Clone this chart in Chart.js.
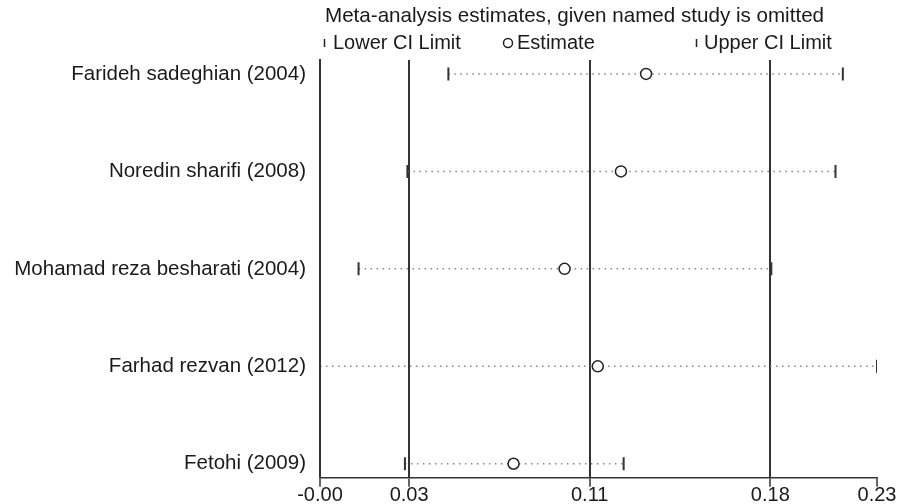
<!DOCTYPE html>
<html>
<head>
<meta charset="utf-8">
<script src="https://cdn.jsdelivr.net/npm/chart.js@4/dist/chart.umd.min.js"></script>
<style>
  html, body { margin: 0; padding: 0; background: #fff; }
  #wrap { width: 905px; height: 504px; }
</style>
</head>
<body>
<div id="wrap"><canvas id="metaChart" width="905" height="504"></canvas></div>
<script>
// studies (top to bottom) and the estimates with each one omitted
var studies = ['Farideh sadeghian (2004)', 'Noredin sharifi (2008)', 'Mohamad reza besharati (2004)', 'Farhad rezvan (2012)', 'Fetohi (2009)'];
var lowerCI = [0.0496, 0.0328, 0.0128, -0.0030, 0.0318];
var estimate = [0.1306, 0.1203, 0.0972, 0.1108, 0.0763];
var upperCI = [0.2112, 0.2082, 0.1819, 0.2252, 0.1214];

// x axis ticks: min, overall lower CI, overall estimate, overall upper CI, max
var tickValues = [-0.0030, 0.0335, 0.1075, 0.1815, 0.2252];
var tickLabels = ['-0.00', '0.03', '0.11', '0.18', '0.23'];

var titleText = 'Meta-analysis estimates, given named study is omitted';
var legendLabels = ['Lower CI Limit', 'Estimate', 'Upper CI Limit'];

var FONT = '"Liberation Sans", Arial, sans-serif';
var INK = '#1a1a1a';

// title and legend row above the plot
var headerPlugin = {
    id: 'header',
    afterDraw: function (chart) {
        var c = chart.ctx;
        c.save();
        c.fillStyle = INK;
        c.strokeStyle = '#222';
        c.textBaseline = 'middle';
        c.textAlign = 'left';
        c.font = '20.6px ' + FONT;
        c.fillText(titleText, 325, 16);

        c.font = '20px ' + FONT;
        // lower CI marker
        c.lineWidth = 1.5;
        c.beginPath(); c.moveTo(324.5, 39); c.lineTo(324.5, 47); c.stroke();
        c.fillText(legendLabels[0], 333, 43);
        // estimate marker
        c.beginPath(); c.arc(508, 43, 4.5, 0, Math.PI * 2); c.stroke();
        c.fillText(legendLabels[1], 517, 43);
        // upper CI marker
        c.beginPath(); c.moveTo(696.5, 39); c.lineTo(696.5, 47); c.stroke();
        c.fillText(legendLabels[2], 704, 43);
        c.restore();
    }
};

// one dotted line per study, from lower to upper limit
var dotted = studies.map(function (s, i) {
    return {
        label: s,
        data: [{ x: lowerCI[i], y: i }, { x: upperCI[i], y: i }],
        showLine: true,
        borderColor: '#858585',
        borderWidth: 1.5,
        borderDash: [1.5, 4.5],
        pointRadius: 0,
        order: 5
    };
});

var markers = [
    {
        label: legendLabels[0],
        data: lowerCI.map(function (v, i) { return { x: v, y: i }; }),
        pointStyle: 'line',
        rotation: 90,
        pointRadius: 6.5,
        borderColor: '#333',
        borderWidth: 2,
        order: 1
    },
    {
        label: legendLabels[1],
        data: estimate.map(function (v, i) { return { x: v, y: i }; }),
        pointStyle: 'circle',
        pointRadius: 5.5,
        borderColor: '#222',
        backgroundColor: '#fff',
        borderWidth: 1.5,
        order: 1
    },
    {
        label: legendLabels[2],
        data: upperCI.map(function (v, i) { return { x: v, y: i }; }),
        pointStyle: 'line',
        rotation: 90,
        pointRadius: 6.5,
        borderColor: '#333',
        borderWidth: 2,
        order: 1
    }
];

var ctx = document.getElementById('metaChart').getContext('2d');
var chart = new Chart(ctx, {
    type: 'scatter',
    data: { datasets: markers.concat(dotted) },
    options: {
        responsive: false,
        animation: false,
        devicePixelRatio: 1,
        layout: { padding: { top: 60, right: 28, bottom: 0, left: 0 } },
        plugins: {
            legend: { display: false },
            tooltip: { enabled: false },
            title: { display: false }
        },
        scales: {
            x: {
                type: 'linear',
                min: tickValues[0],
                max: tickValues[tickValues.length - 1],
                afterBuildTicks: function (scale) {
                    scale.ticks = tickValues.map(function (v) { return { value: v }; });
                },
                afterFit: function (scale) { scale.height = 25; },
                ticks: {
                    autoSkip: false,
                    maxRotation: 0,
                    padding: -3,
                    color: INK,
                    font: { family: FONT, size: 20 },
                    callback: function (v, i) { return tickLabels[i]; }
                },
                grid: {
                    color: function (c) { return c.index === tickValues.length - 1 ? 'rgba(0,0,0,0)' : '#333'; },
                    lineWidth: 2,
                    tickColor: '#333',
                    tickWidth: 1.5,
                    tickLength: 9
                },
                border: { display: true, color: '#333', width: 1.5 }
            },
            y: {
                type: 'linear',
                reverse: true,
                min: -0.143,
                max: 4.143,
                afterBuildTicks: function (scale) {
                    scale.ticks = studies.map(function (s, i) { return { value: i }; });
                },
                afterFit: function (scale) { scale.width = 320; },
                ticks: {
                    autoSkip: false,
                    padding: 14,
                    color: INK,
                    font: { family: FONT, size: 20.5 },
                    callback: function (v) { return studies[v]; }
                },
                grid: { display: false, drawTicks: false },
                border: { display: true, color: '#333', width: 2 }
            }
        }
    },
    plugins: [headerPlugin]
});
</script>
</body>
</html>
